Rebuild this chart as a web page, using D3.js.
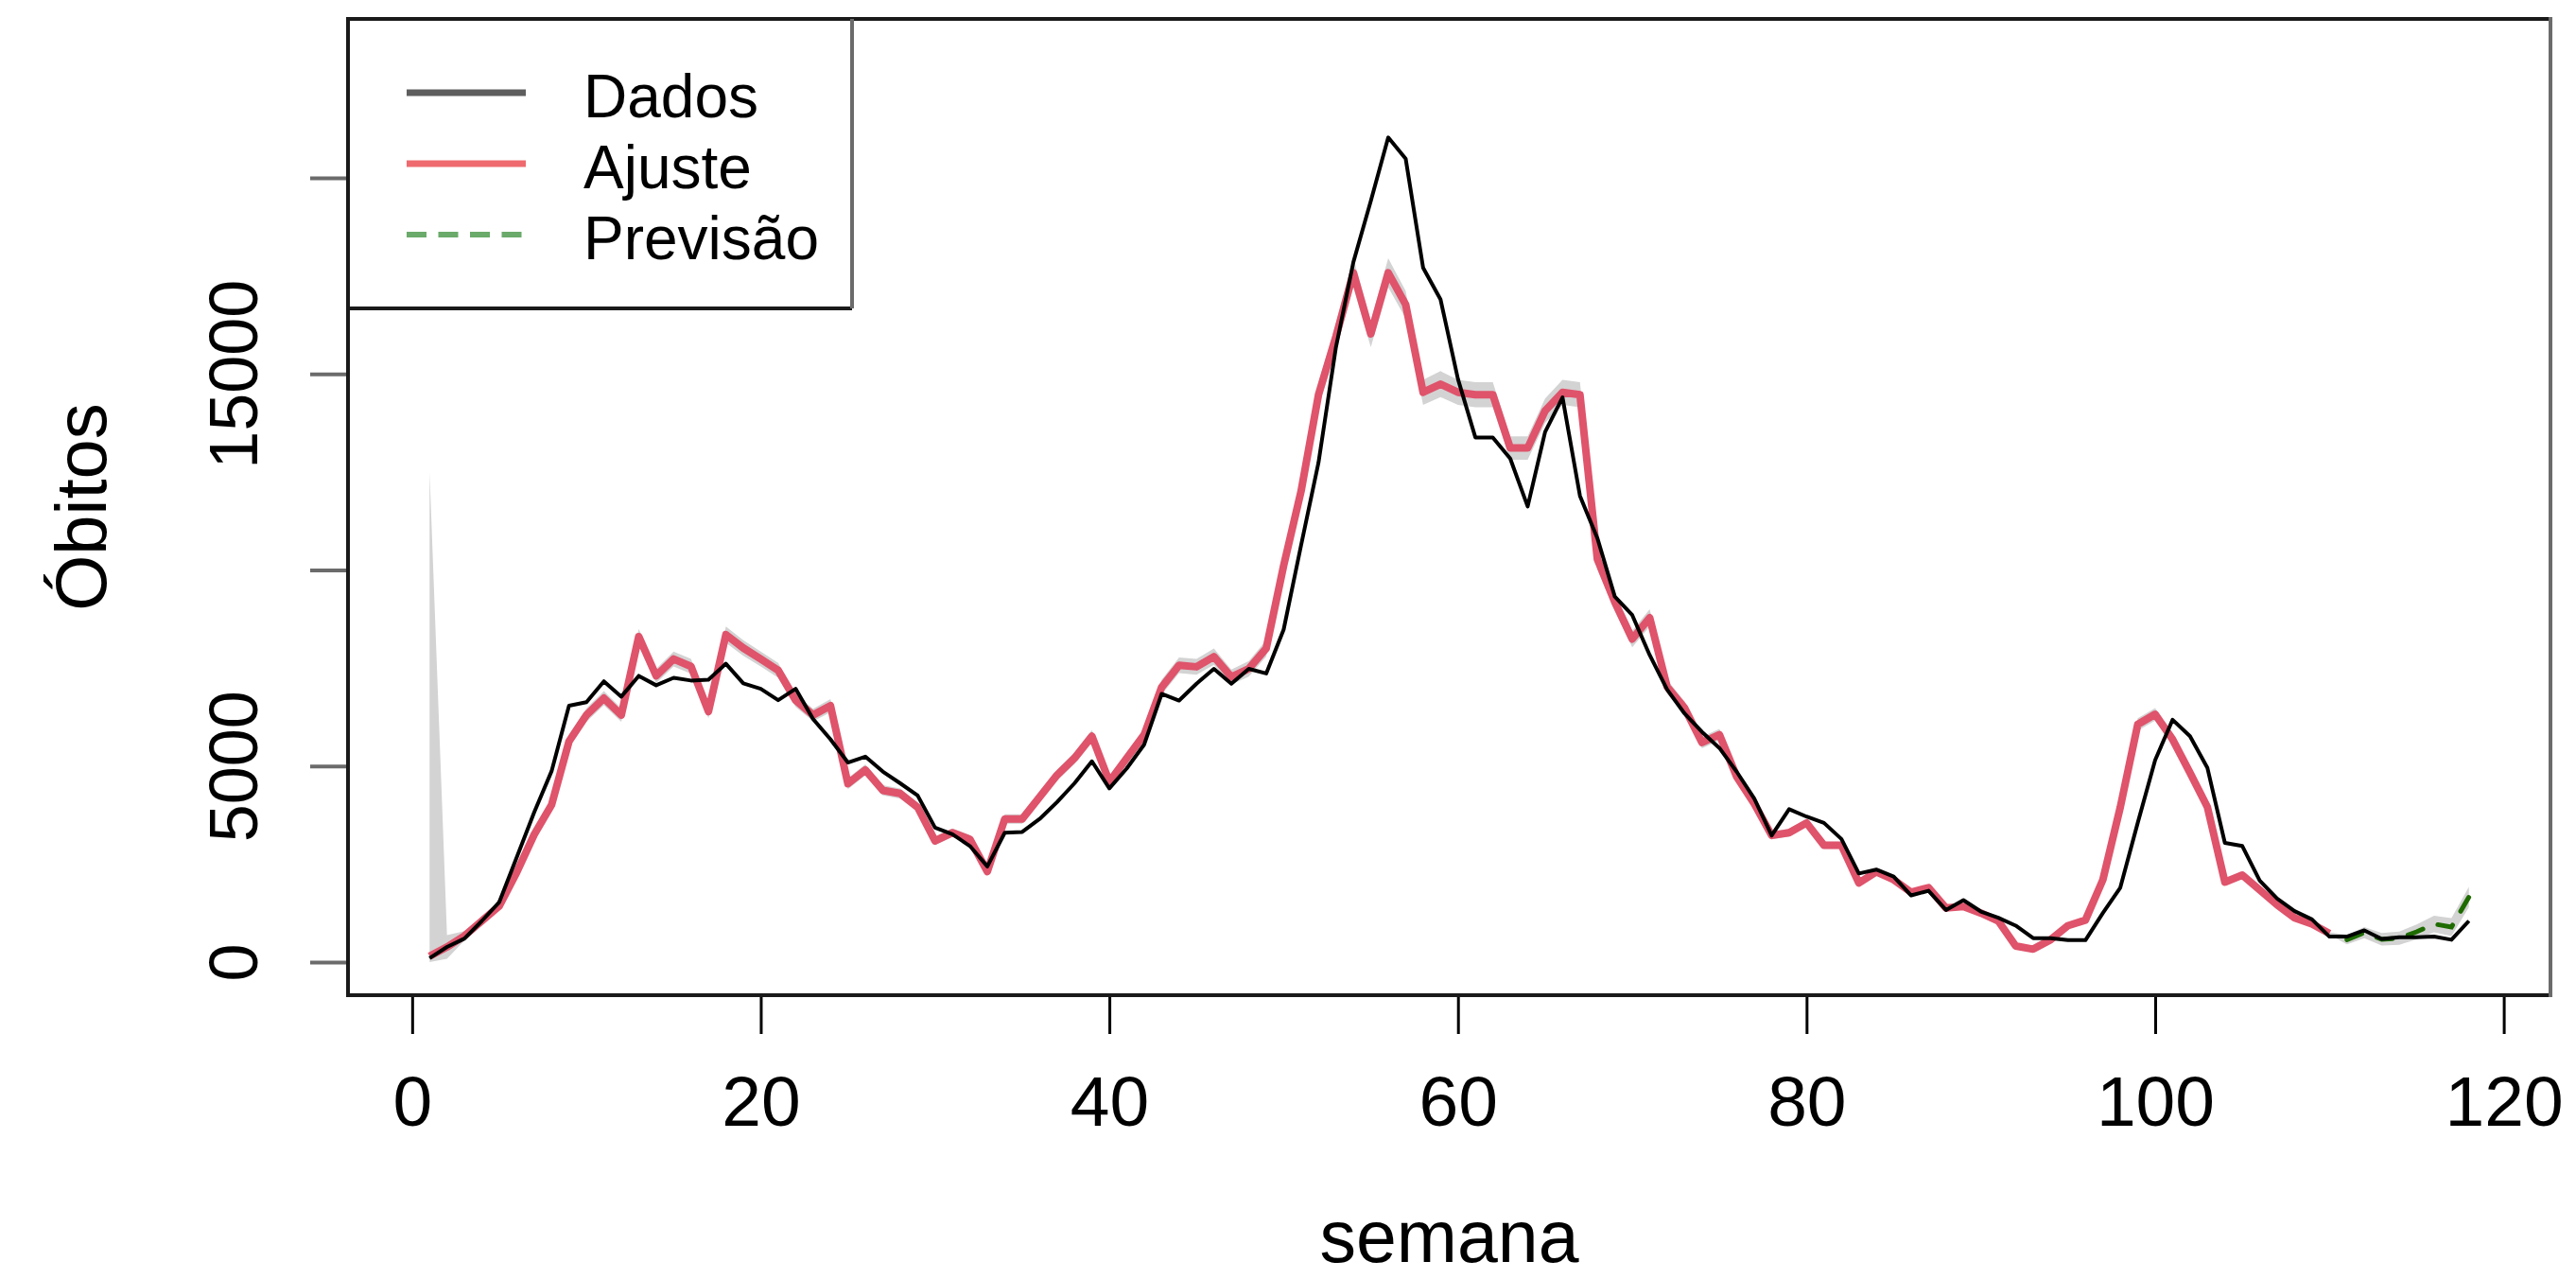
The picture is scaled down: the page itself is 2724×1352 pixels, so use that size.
<!DOCTYPE html>
<html>
<head>
<meta charset="utf-8">
<script src="https://cdn.jsdelivr.net/npm/d3@7"></script>
<style>
  html, body { margin: 0; padding: 0; background: #ffffff; }
  svg { display: block; }
  text { font-family: "Liberation Sans", Arial, sans-serif; fill: #000; }
</style>
</head>
<body>
<svg id="chart" width="2724" height="1352"></svg>
<script>
// Semanas epidemiológicas observadas
const semanas = d3.range(1, 119);

// Óbitos semanais observados
const dados = [
  100, 385, 600, 1050, 1530, 2670, 3820, 4870, 6540, 6630,
  7160, 6770, 7300, 7060, 7250, 7180, 7200, 7610, 7110, 6970,
  6680, 6970, 6200, 5680, 5090, 5240, 4860, 4560, 4250, 3430,
  3260, 2960, 2440, 3300, 3320, 3650, 4080, 4560, 5120, 4430,
  4940, 5550, 6840, 6670, 7100, 7480, 7100, 7480, 7360, 8480,
  10630, 12740, 15680, 17850, 19410, 21030, 20490, 17710, 16900, 14870,
  13380, 13380, 12840, 11620, 13520, 14400, 11890, 10810, 9320, 8850,
  7830, 6950, 6340, 5870, 5460, 4850, 4170, 3230, 3900, 3710,
  3550, 3140, 2260, 2360, 2180, 1700, 1820, 1330, 1580, 1290,
  1130, 930, 610, 610, 560, 560, 1250, 1900, 3550, 5150,
  6180, 5760, 4950, 3040, 2960, 2080, 1620, 1300, 1090, 650,
  650, 810, 590, 635, 635, 650, 570, 1050
];

// Valores ajustados pelo modelo (semanas 1 a 110)
const ajuste = [
  150, 385, 670, 1050, 1430, 2290, 3250, 4010, 5630, 6300,
  6730, 6300, 8300, 7300, 7730, 7540, 6390, 8350, 8010, 7730,
  7440, 6680, 6300, 6540, 4550, 4900, 4380, 4300, 3950, 3090,
  3300, 3130, 2310, 3650, 3650, 4210, 4770, 5200, 5760, 4600,
  5200, 5800, 7010, 7570, 7530, 7790, 7270, 7480, 8000, 10110,
  12010, 14470, 15950, 17580, 16020, 17580, 16770, 14530, 14740, 14530,
  14470, 14470, 13110, 13110, 14060, 14530, 14470, 10270, 9180, 8240,
  8780, 7020, 6480, 5600, 5800, 4720, 4040, 3230, 3300, 3550,
  2980, 2980, 2020, 2300, 2100, 1780, 1900, 1380, 1420, 1250,
  1050, 410, 330, 570, 930, 1070, 2100, 3950, 6060, 6320,
  5680, 4830, 3950, 2040, 2220, 1840, 1460, 1130, 970, 730
];

// Previsão para as semanas 111 a 118
const previsao = [571, 750, 580, 610, 772, 973, 893, 1657];

// Meia-largura do intervalo de confiança (ajuste + previsão)
const margemIC = [
  12350, 300, 120, 100, 100, 110, 120, 130,
  170, 170, 180, 170, 200, 180, 190, 190, 170, 210, 200, 190, 190, 170, 160, 170, 140,
  140, 130, 130, 120, 110, 110, 110, 90, 120, 120, 130, 140, 150, 160, 140,
  150, 170, 190, 200, 200, 210, 190, 200, 210, 240,
  280, 320, 340, 370, 340, 370, 350, 320, 330, 320, 320, 320, 300, 300, 310, 320, 320,
  260, 230, 210, 220, 180, 170, 150, 150, 130, 120, 100, 100, 100,
  90, 90, 70, 70, 70, 60, 60, 50, 50, 50, 40, 30, 30, 40, 50, 50,
  70, 110, 160, 160, 150, 130, 110, 70, 70, 60, 50, 40, 40, 30,
  120, 140, 160, 170, 190, 210, 230, 260
];

// Eixos
const xTicks = [0, 20, 40, 60, 80, 100, 120];
const yTicks = [0, 5000, 10000, 15000, 20000];
const yTickLabels = ["0", "5000", "", "15000", ""];

// Legenda
const legendLabels = ["Dados", "Ajuste", "Previsão"];

// ---------------------------------------------------------------
const svg = d3.select("#chart");
const box = { left: 368, right: 2697, top: 20, bottom: 1052 };

const x = d3.scaleLinear().domain([-3.68, 122.68]).range([box.left, box.right]);
const y = d3.scaleLinear().domain([-844, 24053]).range([box.bottom, box.top]);

svg.append("rect").attr("width", 2724).attr("height", 1352).attr("fill", "#ffffff");

svg.append("defs").append("clipPath").attr("id", "plotArea")
  .append("rect")
  .attr("x", box.left).attr("y", box.top)
  .attr("width", box.right - box.left).attr("height", box.bottom - box.top);

const plot = svg.append("g").attr("clip-path", "url(#plotArea)");

// Faixa do intervalo de confiança
const semanasPrev = semanas.slice(ajuste.length);
const centro = ajuste.concat(previsao);
const faixa = semanas.map((s, i) => ({
  s,
  inf: Math.max(0, centro[i] - margemIC[i]),
  sup: centro[i] + margemIC[i]
}));

plot.append("path")
  .datum(faixa)
  .attr("fill", "#d3d3d3")
  .attr("stroke", "none")
  .attr("d", d3.area().x(d => x(d.s)).y0(d => y(d.inf)).y1(d => y(d.sup)));

// Ajuste
plot.append("path")
  .datum(ajuste)
  .attr("fill", "none")
  .attr("stroke", "#DF536B")
  .attr("stroke-width", 8)
  .attr("stroke-linejoin", "round")
  .attr("d", d3.line().x((d, i) => x(semanas[i])).y(d => y(d)));

// Previsão
plot.append("path")
  .datum(previsao)
  .attr("fill", "none")
  .attr("stroke", "#1e6b00")
  .attr("stroke-width", 5)
  .attr("stroke-dasharray", "17 17")
  .attr("stroke-linecap", "round")
  .attr("d", d3.line().x((d, i) => x(semanasPrev[i])).y(d => y(d)));

// Dados observados
plot.append("path")
  .datum(dados)
  .attr("fill", "none")
  .attr("stroke", "#000000")
  .attr("stroke-width", 4)
  .attr("stroke-linejoin", "round")
  .attr("d", d3.line().x((d, i) => x(semanas[i])).y(d => y(d)));

// Eixo x
const gx = svg.append("g")
  .attr("transform", `translate(0,${box.bottom})`)
  .call(d3.axisBottom(x).tickValues(xTicks).tickSize(41).tickPadding(44).tickFormat(d3.format("d")));
gx.select(".domain").remove();
gx.selectAll(".tick line").attr("stroke", "#000").attr("stroke-width", 3);
gx.selectAll(".tick text")
  .attr("font-size", 75)
  .attr("font-family", "Liberation Sans, Arial, sans-serif")
  .attr("fill", "#000");

// Eixo y
const gy = svg.append("g")
  .attr("transform", `translate(${box.left},0)`)
  .call(d3.axisLeft(y).tickValues(yTicks).tickSize(40).tickFormat((d, i) => yTickLabels[i]));
gy.select(".domain").remove();
gy.selectAll(".tick line").attr("stroke", "#6b6b6b").attr("stroke-width", 4);
gy.selectAll(".tick text")
  .attr("x", null).attr("dy", null)
  .attr("text-anchor", "middle")
  .attr("transform", "translate(-96,0) rotate(-90)")
  .attr("font-size", 72)
  .attr("font-family", "Liberation Sans, Arial, sans-serif")
  .attr("fill", "#000");

// Moldura do gráfico
const frame = svg.append("g").attr("stroke-linecap", "square");
frame.append("line").attr("x1", box.left).attr("x2", box.right).attr("y1", box.top).attr("y2", box.top)
  .attr("stroke", "#1a1a1a").attr("stroke-width", 4);
frame.append("line").attr("x1", box.left).attr("x2", box.right).attr("y1", box.bottom).attr("y2", box.bottom)
  .attr("stroke", "#1a1a1a").attr("stroke-width", 4);
frame.append("line").attr("x1", box.left).attr("x2", box.left).attr("y1", box.top).attr("y2", box.bottom)
  .attr("stroke", "#1a1a1a").attr("stroke-width", 4);
frame.append("line").attr("x1", box.right).attr("x2", box.right).attr("y1", box.top).attr("y2", box.bottom)
  .attr("stroke", "#6b6b6b").attr("stroke-width", 4);

// Títulos dos eixos
svg.append("text")
  .attr("x", (box.left + box.right) / 2).attr("y", 1334)
  .attr("text-anchor", "middle").attr("font-size", 77)
  .text("semana");
svg.append("text")
  .attr("transform", `translate(112,${(box.top + box.bottom) / 2}) rotate(-90)`)
  .attr("text-anchor", "middle").attr("font-size", 76)
  .text("Óbitos");

// Legenda
const leg = { left: 368, right: 901, top: 20, bottom: 326 };
const lg = svg.append("g");
lg.append("rect")
  .attr("x", leg.left).attr("y", leg.top)
  .attr("width", leg.right - leg.left).attr("height", leg.bottom - leg.top)
  .attr("fill", "#ffffff");
lg.append("line").attr("x1", leg.left).attr("x2", leg.right).attr("y1", leg.top).attr("y2", leg.top)
  .attr("stroke", "#1a1a1a").attr("stroke-width", 4);
lg.append("line").attr("x1", leg.left).attr("x2", leg.right).attr("y1", leg.bottom).attr("y2", leg.bottom)
  .attr("stroke", "#1a1a1a").attr("stroke-width", 4);
lg.append("line").attr("x1", leg.left).attr("x2", leg.left).attr("y1", leg.top).attr("y2", leg.bottom)
  .attr("stroke", "#1a1a1a").attr("stroke-width", 4);
lg.append("line").attr("x1", leg.right).attr("x2", leg.right).attr("y1", leg.top).attr("y2", leg.bottom)
  .attr("stroke", "#6b6b6b").attr("stroke-width", 4);

const legStyles = [
  { stroke: "#5e5e5e", width: 7, dash: null },
  { stroke: "#ee6a6e", width: 7, dash: null },
  { stroke: "#6aaa6a", width: 6, dash: "21 12.5" }
];
const legY = d3.scalePoint().domain(legendLabels).range([98, 248]);

legendLabels.forEach((lab, i) => {
  const st = legStyles[i];
  lg.append("line")
    .attr("x1", 430).attr("x2", 556)
    .attr("y1", legY(lab)).attr("y2", legY(lab))
    .attr("stroke", st.stroke).attr("stroke-width", st.width)
    .attr("stroke-dasharray", st.dash);
  lg.append("text")
    .attr("x", 617).attr("y", legY(lab) + 26)
    .attr("font-size", 64)
    .text(lab);
});
</script>
</body>
</html>
